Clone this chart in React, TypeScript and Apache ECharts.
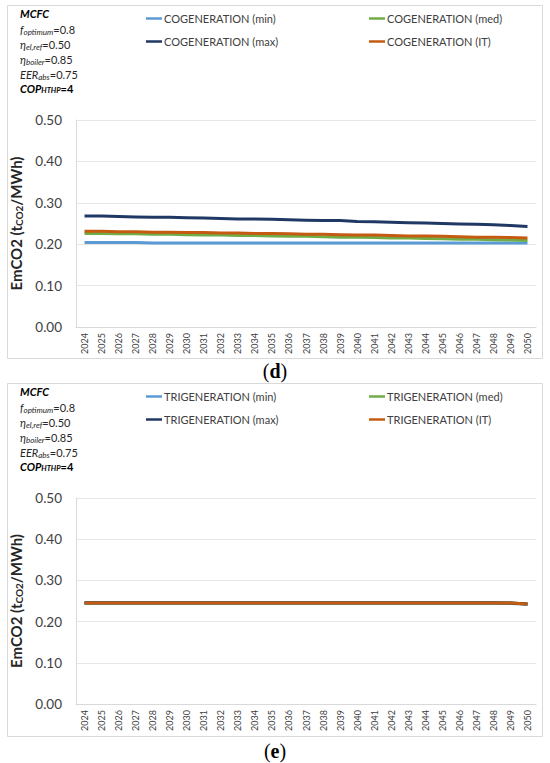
import React, { useEffect, useRef } from "react";
import * as echarts from "echarts";

const years = [
  "2024", "2025", "2026", "2027", "2028", "2029", "2030", "2031", "2032",
  "2033", "2034", "2035", "2036", "2037", "2038", "2039", "2040", "2041",
  "2042", "2043", "2044", "2045", "2046", "2047", "2048", "2049", "2050",
];
const yTicks = [0, 0.1, 0.2, 0.3, 0.4, 0.5];

// Panel (d) - cogeneration
const coMin = [0.204, 0.204, 0.204, 0.204, 0.203, 0.203, 0.203, 0.203, 0.203, 0.203, 0.203, 0.203, 0.203, 0.203, 0.203, 0.203, 0.203, 0.203, 0.203, 0.203, 0.203, 0.203, 0.203, 0.203, 0.203, 0.203, 0.203];
const coMed = [0.226, 0.226, 0.225, 0.225, 0.224, 0.224, 0.223, 0.222, 0.222, 0.221, 0.221, 0.220, 0.219, 0.219, 0.218, 0.217, 0.217, 0.216, 0.215, 0.215, 0.214, 0.213, 0.212, 0.212, 0.211, 0.210, 0.209];
const coMax = [0.268, 0.268, 0.267, 0.266, 0.265, 0.265, 0.264, 0.263, 0.262, 0.261, 0.261, 0.260, 0.259, 0.258, 0.257, 0.257, 0.255, 0.254, 0.253, 0.252, 0.251, 0.250, 0.249, 0.248, 0.247, 0.245, 0.243];
const coIT = [0.231, 0.231, 0.230, 0.230, 0.229, 0.229, 0.228, 0.228, 0.227, 0.227, 0.226, 0.226, 0.225, 0.224, 0.224, 0.223, 0.222, 0.222, 0.221, 0.220, 0.220, 0.219, 0.218, 0.217, 0.217, 0.216, 0.215];

// Panel (e) - trigeneration
const triMin = [0.244, 0.244, 0.244, 0.244, 0.244, 0.244, 0.244, 0.244, 0.244, 0.244, 0.244, 0.244, 0.244, 0.244, 0.244, 0.244, 0.244, 0.244, 0.244, 0.244, 0.244, 0.244, 0.244, 0.244, 0.244, 0.244, 0.242];
const triMed = [0.245, 0.245, 0.245, 0.245, 0.245, 0.245, 0.245, 0.245, 0.245, 0.245, 0.245, 0.245, 0.245, 0.245, 0.245, 0.245, 0.245, 0.245, 0.245, 0.245, 0.245, 0.245, 0.245, 0.245, 0.245, 0.245, 0.243];
const triMax = [0.246, 0.246, 0.246, 0.246, 0.246, 0.246, 0.246, 0.246, 0.246, 0.246, 0.246, 0.246, 0.246, 0.246, 0.246, 0.246, 0.246, 0.246, 0.246, 0.246, 0.246, 0.246, 0.246, 0.246, 0.246, 0.245, 0.243];
const triIT = [0.245, 0.245, 0.245, 0.245, 0.245, 0.245, 0.245, 0.245, 0.245, 0.245, 0.245, 0.245, 0.245, 0.245, 0.245, 0.245, 0.245, 0.245, 0.245, 0.245, 0.245, 0.245, 0.245, 0.245, 0.245, 0.245, 0.243];

const seriesKinds = ["min", "med", "max", "IT"];
const colors = ["#5B9BD5", "#70AD47", "#1F3864", "#C55A11"];

const FONT = "Lato, 'Open Sans', sans-serif";
const SERIF = "'Liberation Serif', 'DejaVu Serif', serif";
const OFFSET = 378;

function annotation(dy: number) {
  const base = { fontFamily: FONT, fontSize: 11, fill: "#262626" };
  const rich = {
    b: { fontSize: 11, fontWeight: "bold", fontStyle: "italic", fontFamily: FONT, fill: "#000" },
    bb: { fontSize: 11, fontWeight: "bold", fontFamily: FONT, fill: "#000" },
    bs: { fontSize: 7.5, fontWeight: "bold", fontStyle: "italic", fontFamily: FONT, fill: "#000", padding: [4, 0, 0, 0] },
    i: { fontSize: 11, fontStyle: "italic", fontFamily: FONT, fill: "#262626" },
    s: { fontSize: 8, fontStyle: "italic", fontFamily: FONT, fill: "#262626", padding: [4, 0, 0, 0] },
    n: { fontSize: 11, fontFamily: FONT, fill: "#262626" },
  };
  const lines = [
    { y: 15, t: "{b|MCFC}" },
    { y: 31, t: "{i|f}{s|optimum}{n|=0.8}" },
    { y: 46, t: "{i|η}{s|el,ref}{n|=0.50}" },
    { y: 61, t: "{i|η}{s|boiler}{n|=0.85}" },
    { y: 76, t: "{i|EER}{s|abs}{n|=0.75}" },
    { y: 90, t: "{b|COP}{bs|HTHP}{bb|=4}" },
  ];
  return lines.map((l) => ({
    type: "text",
    left: 20,
    top: l.y + dy - 7,
    style: { ...base, text: l.t, rich },
    z: 10,
  }));
}

export default function App() {
  const ref = useRef<HTMLDivElement>(null);
  useEffect(() => {
    if (!ref.current) return;
    const chart = echarts.init(ref.current, undefined, { renderer: "svg" });

    const panels = [
      { prefix: "COGENERATION", data: [coMin, coMed, coMax, coIT], dy: 0 },
      { prefix: "TRIGENERATION", data: [triMin, triMed, triMax, triIT], dy: OFFSET },
    ];

    const grids: any[] = [];
    const xAxes: any[] = [];
    const yAxes: any[] = [];
    const series: any[] = [];
    const legends: any[] = [];

    panels.forEach((p, pi) => {
      grids.push({ left: 76, right: 14, top: 120 + p.dy, height: 207 - pi, containLabel: false });
      xAxes.push({
        type: "category",
        gridIndex: pi,
        data: years,
        boundaryGap: true,
        axisLine: { show: true, lineStyle: { color: "#D9D9D9", width: 1 } },
        axisTick: { show: false },
        axisLabel: { rotate: 90, interval: 0, fontSize: 9, color: "#404040", fontFamily: FONT, margin: 6 },
      });
      yAxes.push({
        type: "value",
        gridIndex: pi,
        min: 0,
        max: 0.5,
        interval: 0.1,
        axisLine: { show: true, lineStyle: { color: "#D9D9D9", width: 1 } },
        axisTick: { show: false },
        splitLine: { show: true, lineStyle: { color: "#E6E6E6", width: 1 } },
        axisLabel: {
          fontSize: 13.5,
          color: "#404040",
          fontFamily: FONT,
          margin: 14,
          formatter: (v: number) => v.toFixed(2),
        },
        name: "EmCO2 (t{sub|CO2}/MWh)",
        nameLocation: "middle",
        nameRotate: 90,
        nameGap: 47,
        nameTextStyle: {
          fontSize: 15,
          fontWeight: "bold",
          color: "#262626",
          fontFamily: FONT,
          rich: {
            sub: { fontSize: 10, fontWeight: "bold", color: "#262626", fontFamily: FONT, padding: [6, 0, 0, 0] },
          },
        },
      });
      seriesKinds.forEach((k, si) => {
        const name = `${p.prefix} (${k})`;
        series.push({
          name,
          type: "line",
          xAxisIndex: pi,
          yAxisIndex: pi,
          data: p.data[si],
          symbol: "none",
          lineStyle: { color: colors[si], width: 3 },
          itemStyle: { color: colors[si] },
          z: 2 + si,
        });
        const col = si % 2;
        const row = Math.floor(si / 2);
        legends.push({
          data: [name],
          left: col === 0 ? 146 : 369,
          top: 13 + row * 23 + p.dy,
          icon: "rect",
          itemWidth: 16,
          itemHeight: 2.5,
          itemGap: 0,
          padding: 0,
          textStyle: { fontSize: 11, color: "#404040", fontFamily: FONT, padding: [0, 0, 0, -3] },
          selectedMode: false,
        });
      });
    });

    const captions = [
      { y: 373, letter: "d" },
      { y: 373 + 380, letter: "e" },
    ];

    const graphic: any[] = [
      {
        type: "rect",
        shape: { x: 7.5, y: 5.5, width: 535, height: 353 },
        style: { fill: "#fff", stroke: "#D9D9D9", lineWidth: 1 },
        z: -10,
      },
      {
        type: "rect",
        shape: { x: 7.5, y: 5.5 + OFFSET, width: 535, height: 353 },
        style: { fill: "#fff", stroke: "#D9D9D9", lineWidth: 1 },
        z: -10,
      },
      ...annotation(0),
      ...annotation(OFFSET),
      ...captions.map((c) => ({
        type: "text",
        left: "center",
        top: c.y - 12,
        style: {
          text: `{n|(}{b|${c.letter}}{n|)}`,
          rich: {
            n: { fontSize: 20, fontFamily: SERIF, fill: "#000" },
            b: { fontSize: 20, fontWeight: "bold", fontFamily: SERIF, fill: "#000" },
          },
        },
      })),
    ];

    chart.setOption({
      animation: false,
      backgroundColor: "#fff",
      grid: grids,
      xAxis: xAxes,
      yAxis: yAxes,
      series,
      legend: legends,
      graphic,
    });
    return () => chart.dispose();
  }, []);

  return (
    <div
      ref={ref}
      style={{ position: "absolute", left: 0, top: 0, width: 550, height: 763 }}
    />
  );
}
